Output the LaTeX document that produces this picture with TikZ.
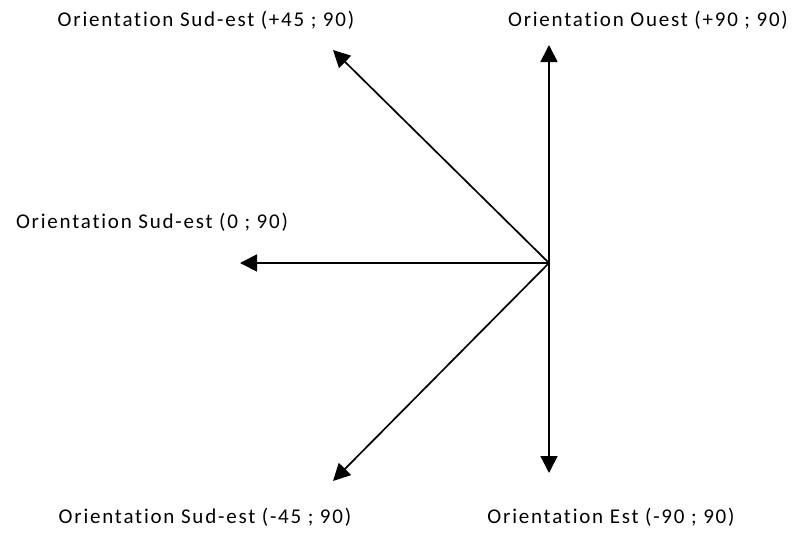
\documentclass[tikz,border=0pt]{standalone}
\usepackage{fontspec}
\setmainfont[Ligatures=NoCommon, LetterSpace=8.5]{Carlito}
\usetikzlibrary{arrows.meta}

\begin{document}
\begin{tikzpicture}[x=1pt, y=1pt]

\tikzstyle{every node} = [inner sep=0pt, font=\fontsize{21}{25}\selectfont]
\tikzstyle{dir} = [line width=1.7pt, -{Triangle[length=17pt, width=17pt]}]

\useasboundingbox (0,0) rectangle (796,-533);

% origin and arrow ends
\coordinate (o) at (549,-263);
\coordinate (n)  at (549,-45);
\coordinate (nw) at (333,-50);
\coordinate (w)  at (240,-263);
\coordinate (sw) at (333,-481);
\coordinate (s)  at (549,-473);

\node (lnw) at (206,-20) {Orientation Sud-est (+45 ; 90)};
\node (ln)  at (648,-20) {Orientation Ouest (+90 ; 90)};
\node (lw)  at (152,-222) {Orientation Sud-est (0 ; 90)};
\node (lsw) at (205,-517) {Orientation Sud-est (-45 ; 90)};
\node (ls)  at (611,-517) {Orientation Est (-90 ; 90)};

\draw[dir] (o) -- (n);
\draw[dir] (o) -- (nw);
\draw[dir] (o) -- (w);
\draw[dir] (o) -- (sw);
\draw[dir] (o) -- (s);
\end{tikzpicture}
\end{document}
